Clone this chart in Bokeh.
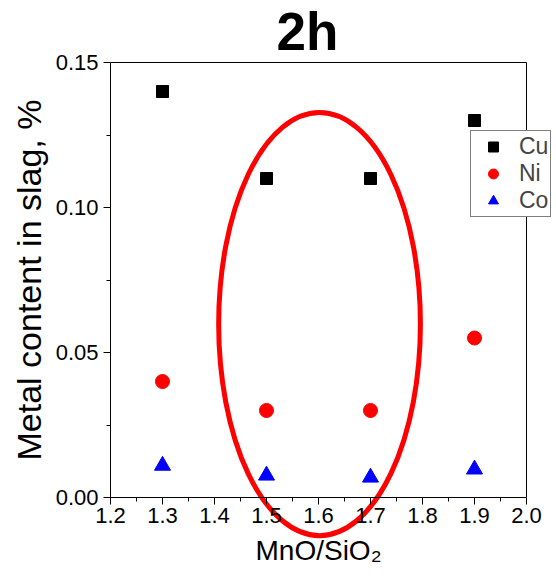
import numpy as np
from bokeh.plotting import figure
from bokeh.models import Range1d, FixedTicker, Legend, LegendItem, LinearAxis, Label
from bokeh.embed import file_html
from bokeh.resources import INLINE

ratio = [1.3, 1.5, 1.7, 1.9]
cu = [0.140, 0.110, 0.110, 0.130]
ni = [0.040, 0.030, 0.030, 0.055]
co = [0.011, 0.0076, 0.0069, 0.0097]
x_ticks = [1.2, 1.3, 1.4, 1.5, 1.6, 1.7, 1.8, 1.9, 2.0]
x_minor = [1.25, 1.35, 1.45, 1.55, 1.65, 1.75, 1.85, 1.95]
y_ticks = [0.0, 0.05, 0.10, 0.15]
y_minor = [0.025, 0.075, 0.125]

X_LO, X_HI = 1.2, 2.0
Y_LO, Y_HI = 0.0, 0.15

# highlight ellipse (center x, center y, full width, full height) in data units
ell_cx, ell_cy, ell_w, ell_h = 1.602, 0.0598, 0.388, 0.1459

FONT = "Liberation Sans"
W, H = 556, 580
# axes box position on the canvas (pixels)
BOX_L, BOX_R, BOX_T, BOX_B = 110, 526, 62, 497

sx = (X_HI - X_LO) / (BOX_R - BOX_L)
sy = (Y_HI - Y_LO) / (BOX_B - BOX_T)
x_range = Range1d(X_LO - BOX_L * sx, X_HI + (W - BOX_R) * sx)
y_range = Range1d(Y_LO - (H - BOX_B) * sy, Y_HI + BOX_T * sy)

# the frame fills the canvas; axes are pinned at the data box edges
p = figure(width=W, height=H, output_backend="svg", toolbar_location=None, title=None,
           x_range=x_range, y_range=y_range,
           min_border=0, min_border_left=0, min_border_right=0,
           min_border_top=0, min_border_bottom=0)
p.grid.visible = False
p.outline_line_color = None

for ax in (p.xaxis[0], p.yaxis[0]):
    ax.axis_line_color = "black"
    ax.major_tick_line_color = "black"
    ax.minor_tick_line_color = "black"
    ax.major_tick_out = 7
    ax.major_tick_in = 0
    ax.minor_tick_out = 4
    ax.minor_tick_in = 0
    ax.major_label_text_font = FONT
    ax.major_label_text_font_size = "22px"
    ax.major_label_text_color = "black"
    ax.axis_label_text_font = FONT
    ax.axis_label_text_font_style = "normal"
    ax.axis_label_text_color = "black"

p.xaxis.fixed_location = Y_LO
p.xaxis.bounds = (X_LO, X_HI)
p.xaxis.ticker = FixedTicker(ticks=x_ticks, minor_ticks=x_minor)
p.xaxis.major_label_overrides = {t: f"{t:.1f}" for t in x_ticks}
p.xaxis.axis_label = "MnO/SiO\u2082"
p.xaxis.axis_label_text_font_size = "28px"
p.xaxis.axis_label_standoff = 9
p.xaxis.major_label_standoff = 3

p.yaxis.fixed_location = X_LO
p.yaxis.bounds = (Y_LO, Y_HI)
p.yaxis.ticker = FixedTicker(ticks=y_ticks, minor_ticks=y_minor)
p.yaxis.major_label_overrides = {t: f"{t:.2f}" for t in y_ticks}
p.yaxis.axis_label = "Metal content in slag, %"
p.yaxis.axis_label_text_font_size = "34px"
p.yaxis.axis_label_standoff = 5

# plain frame lines on top and right
top = LinearAxis(ticker=FixedTicker(ticks=[]), axis_line_color="black",
                 fixed_location=Y_HI, bounds=(X_LO, X_HI))
right = LinearAxis(ticker=FixedTicker(ticks=[]), axis_line_color="black",
                   fixed_location=X_HI, bounds=(Y_LO, Y_HI))
p.add_layout(top, "above")
p.add_layout(right, "right")

r_cu = p.scatter(ratio, cu, marker="square", size=12, color="black")
r_ni = p.scatter(ratio, ni, marker="circle", size=14, color="red")
r_co = p.scatter(ratio, co, marker="triangle", size=16, color="blue")

p.ellipse(x=[ell_cx], y=[ell_cy], width=ell_w, height=ell_h,
          fill_alpha=0, line_color="red", line_width=5)

p.add_layout(Label(x=307, y=H - 31, x_units="screen", y_units="screen", text="2h",
                   text_font=FONT, text_font_size="53px", text_font_style="bold",
                   text_color="black", text_align="center", text_baseline="alphabetic"))

legend = Legend(items=[LegendItem(label="Cu", renderers=[r_cu]),
                       LegendItem(label="Ni", renderers=[r_ni]),
                       LegendItem(label="Co", renderers=[r_co])],
                location=(470, H - 217))
legend.label_text_font = FONT
legend.label_text_font_size = "23px"
legend.border_line_color = "black"
legend.border_line_width = 1
legend.background_fill_alpha = 1
legend.padding = 2
legend.spacing = 0
legend.margin = 0
legend.glyph_width = 40
legend.glyph_height = 25
legend.label_height = 25
legend.label_standoff = 6
legend.label_text_baseline = "middle"
p.add_layout(legend)

open("out.html", "w").write(file_html(p, INLINE))
